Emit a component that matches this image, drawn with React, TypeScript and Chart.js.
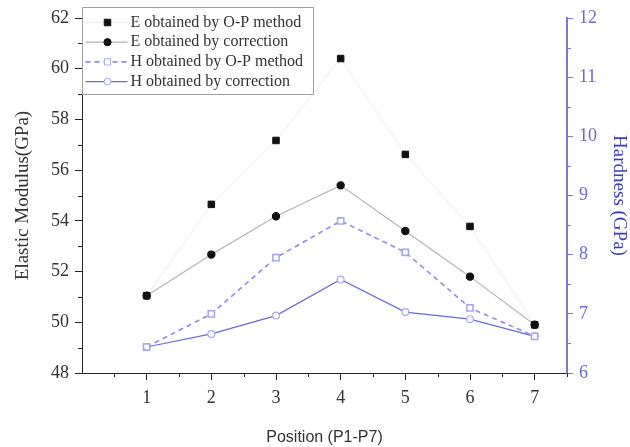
import React, { useEffect, useRef } from "react";
import { Chart, registerables } from "chart.js";
Chart.register(...registerables);

const positions = [1, 2, 3, 4, 5, 6, 7];
const eOP = [51.05, 54.65, 57.17, 60.4, 56.62, 53.78, 49.9];
const eCorr = [51.05, 52.67, 54.18, 55.4, 53.6, 51.8, 49.9];
const hOP = [6.44, 7.0, 7.95, 8.57, 8.04, 7.1, 6.62];
const hCorr = [6.44, 6.66, 6.97, 7.58, 7.03, 6.91, 6.62];
const seriesLabels = [
  "E obtained by O-P method",
  "E obtained by correction",
  "H obtained by O-P method",
  "H obtained by correction",
];
const xTitle = "Position (P1-P7)";
const yLeftTitle = "Elastic Modulus(GPa)";
const yRightTitle = "Hardness (GPa)";

const SERIF = "'Liberation Serif', 'Times New Roman', serif";
const BLUE_AXIS = "#7878d8";

const pts = (vals: number[]) => vals.map((v, i) => ({ x: positions[i], y: v }));

const minorTicksPlugin = {
  id: "minorTicks",
  afterDraw(chart: any) {
    const ctx = chart.ctx;
    const { x, y, y1 } = chart.scales;
    const ca = chart.chartArea;
    ctx.save();
    ctx.lineWidth = 1;
    ctx.strokeStyle = "#222";
    for (let v = 0.5; v <= 7.5; v += 1) {
      const px = Math.round(x.getPixelForValue(v)) + 0.5;
      ctx.beginPath();
      ctx.moveTo(px, ca.bottom);
      ctx.lineTo(px, ca.bottom + 4);
      ctx.stroke();
    }
    for (let v = 49; v <= 61; v += 2) {
      const py = Math.round(y.getPixelForValue(v)) + 0.5;
      ctx.beginPath();
      ctx.moveTo(ca.left, py);
      ctx.lineTo(ca.left - 4, py);
      ctx.stroke();
    }
    ctx.strokeStyle = BLUE_AXIS;
    for (let v = 6.5; v <= 11.5; v += 1) {
      const py = Math.round(y1.getPixelForValue(v)) + 0.5;
      ctx.beginPath();
      ctx.moveTo(ca.right, py);
      ctx.lineTo(ca.right + 4, py);
      ctx.stroke();
    }
    ctx.restore();
  },
};

const boxLegendPlugin = {
  id: "boxLegend",
  afterDraw(chart: any) {
    const ctx = chart.ctx;
    const ca = chart.chartArea;
    const x0 = ca.left + 0.5;
    const y0 = ca.top - 11 + 0.5;
    const w = 231;
    const h = 87;
    ctx.save();
    ctx.fillStyle = "#ffffff";
    ctx.fillRect(x0, y0, w, h);
    ctx.strokeStyle = "#a0a0a0";
    ctx.lineWidth = 1;
    ctx.strokeRect(x0, y0, w, h);
    chart.data.datasets.forEach((ds: any, i: number) => {
      const cy = y0 + 15 + i * 19.7;
      ctx.save();
      ctx.strokeStyle = ds.borderColor;
      ctx.lineWidth = ds.borderWidth;
      ctx.setLineDash(ds.borderDash || []);
      ctx.beginPath();
      ctx.moveTo(x0 + 3, cy);
      ctx.lineTo(x0 + 45, cy);
      ctx.stroke();
      ctx.setLineDash([]);
      const mx = x0 + 25;
      ctx.fillStyle = ds.pointBackgroundColor;
      ctx.strokeStyle = ds.pointBorderColor;
      ctx.lineWidth = 1;
      const r = ds.pointRadius;
      ctx.beginPath();
      if (ds.pointStyle === "rect") {
        const s = Math.SQRT1_2 * r;
        ctx.rect(mx - s, cy - s, 2 * s, 2 * s);
      } else {
        ctx.arc(mx, cy, r, 0, Math.PI * 2);
      }
      ctx.fill();
      ctx.stroke();
      ctx.restore();
      ctx.fillStyle = "#333";
      ctx.font = `16px ${SERIF}`;
      ctx.textBaseline = "middle";
      ctx.textAlign = "left";
      ctx.fillText(ds.label, x0 + 48, cy);
    });
    ctx.restore();
  },
};

export default function App() {
  const ref = useRef<HTMLCanvasElement | null>(null);
  useEffect(() => {
    if (!ref.current) return;
    const chart = new Chart(ref.current, {
      type: "line",
      data: {
        datasets: [
          {
            label: seriesLabels[0],
            data: pts(eOP),
            yAxisID: "y",
            borderColor: "#ececec",
            borderWidth: 1,
            pointStyle: "rect",
            pointRadius: 4.6,
            pointBackgroundColor: "#111",
            pointBorderColor: "#111",
          },
          {
            label: seriesLabels[1],
            data: pts(eCorr),
            yAxisID: "y",
            borderColor: "#b4b4b4",
            borderWidth: 1.2,
            pointStyle: "circle",
            pointRadius: 3.6,
            pointBackgroundColor: "#111",
            pointBorderColor: "#111",
          },
          {
            label: seriesLabels[2],
            data: pts(hOP),
            yAxisID: "y1",
            borderColor: "#8c8ce0",
            borderWidth: 1.6,
            borderDash: [5, 4],
            pointStyle: "rect",
            pointRadius: 4.4,
            pointBackgroundColor: "#ffffff",
            pointBorderColor: "#a8a8e8",
          },
          {
            label: seriesLabels[3],
            data: pts(hCorr),
            yAxisID: "y1",
            borderColor: "#6a6ad8",
            borderWidth: 1.2,
            pointStyle: "circle",
            pointRadius: 3.4,
            pointBackgroundColor: "#ffffff",
            pointBorderColor: "#a8a8e8",
          },
        ],
      } as any,
      options: {
        animation: false,
        responsive: false,
        maintainAspectRatio: false,
        layout: { padding: { top: 18, left: 0, right: 0, bottom: 0 } },
        plugins: { legend: { display: false }, tooltip: { enabled: false } },
        elements: { line: { tension: 0 } },
        scales: {
          x: {
            type: "linear",
            min: 0,
            max: 7.5,
            afterBuildTicks: (s: any) => {
              s.ticks = positions.map((v) => ({ value: v }));
            },
            afterFit: (s: any) => {
              s.height = 74;
            },
            grid: { drawOnChartArea: false, drawTicks: true, tickLength: 7, color: "#222" },
            border: { display: true, color: "#222", width: 1 },
            ticks: {
              color: "#333",
              font: { family: SERIF, size: 18 },
              padding: 7,
              maxRotation: 0,
            },
            title: {
              display: true,
              text: xTitle,
              color: "#333",
              font: { family: "'Liberation Sans', sans-serif", size: 16 },
              padding: { top: 0, bottom: 0 },
            },
          },
          y: {
            position: "left",
            min: 48,
            max: 62,
            afterFit: (s: any) => {
              s.width = 82;
            },
            grid: { drawOnChartArea: false, drawTicks: true, tickLength: 7, color: "#222" },
            border: { display: true, color: "#222", width: 1 },
            ticks: {
              stepSize: 2,
              color: "#333",
              font: { family: SERIF, size: 18 },
              padding: 6,
            },
            title: {
              display: true,
              text: yLeftTitle,
              color: "#333",
              font: { family: SERIF, size: 19 },
              padding: { top: 12, bottom: 0 },
            },
          },
          y1: {
            position: "right",
            min: 6,
            max: 12,
            afterFit: (s: any) => {
              s.width = 63;
            },
            grid: { drawOnChartArea: false, drawTicks: true, tickLength: 6, color: BLUE_AXIS },
            border: { display: true, color: BLUE_AXIS, width: 2 },
            ticks: {
              stepSize: 1,
              color: "#6a6ac8",
              font: { family: SERIF, size: 18 },
              padding: 6,
            },
            title: {
              display: true,
              text: yRightTitle,
              color: "#3a3abf",
              font: { family: SERIF, size: 19 },
              padding: { top: 0, bottom: 2 },
            },
          },
        },
      } as any,
      plugins: [minorTicksPlugin, boxLegendPlugin],
    });
    return () => chart.destroy();
  }, []);
  return (
    <div style={{ position: "absolute", left: 0, top: 0, width: 630, height: 447, background: "#fff" }}>
      <canvas ref={ref} width={630} height={447} style={{ display: "block" }} />
    </div>
  );
}
